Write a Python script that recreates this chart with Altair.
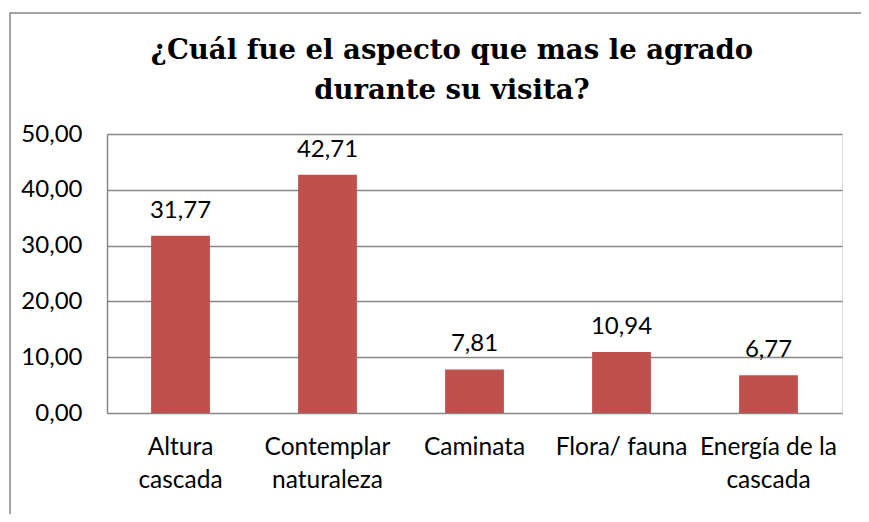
import altair as alt
import pandas as pd

categories = ["Altura\ncascada", "Contemplar\nnaturaleza", "Caminata", "Flora/ fauna", "Energía de la\ncascada"]
values = [31.77, 42.71, 7.81, 10.94, 6.77]
title_lines = ["¿Cuál fue el aspecto que mas le agrado", "durante su visita?"]
y_ticks = [0, 10, 20, 30, 40, 50]

df = pd.DataFrame({"cat": categories, "val": values})
df["lab"] = df["val"].map(lambda v: f"{v:.2f}".replace(".", ","))

BAR = "#C0504D"
GRID = "#868686"
FONT = "Lato"
FS = 24.5
SERIF = "DejaVu Serif"

x_enc = alt.X(
    "cat:N",
    sort=categories,
    scale=alt.Scale(paddingInner=0.6, paddingOuter=0.3),
    axis=alt.Axis(
        title=None, labelAngle=0, ticks=False, domain=False, grid=False,
        labelExpr="split(datum.label, '\\n')",
        labelFont=FONT, labelFontSize=FS, labelColor="#000000",
        labelPadding=22, labelLineHeight=33, labelBaseline="top",
    ),
)
y_enc = alt.Y(
    "val:Q",
    scale=alt.Scale(domain=[0, 50], nice=False),
    axis=alt.Axis(
        title=None, values=y_ticks, ticks=False, domain=True, domainColor=GRID,
        domainWidth=1.5, grid=True, gridColor=GRID, gridWidth=1.5,
        labelExpr="replace(format(datum.value, '.2f'), '.', ',')",
        labelFont=FONT, labelFontSize=24, labelColor="#000000", labelPadding=25,
    ),
)

base = alt.Chart(df)
bars = base.mark_bar(color=BAR).encode(x=x_enc, y=y_enc)
texts = base.mark_text(
    font=FONT, fontSize=24, color="#000000", baseline="alphabetic", dy=-18
).encode(x=alt.X("cat:N", sort=categories), y="val:Q", text="lab:N")

frame = alt.Chart(pd.DataFrame({"k": [0]})).mark_rect(
    fill=None, stroke=GRID, strokeWidth=1.5
).encode(
    x=alt.value(-97), x2=alt.value(900), y=alt.value(-121), y2=alt.value(500)
)

title_df = pd.DataFrame({"k": [0]})
title1 = alt.Chart(title_df).mark_text(
    font=SERIF, fontSize=27.5, fontWeight="bold", color="#000000",
    baseline="alphabetic", align="center",
).encode(x=alt.value(345), y=alt.value(-75), text=alt.value(title_lines[0]))
title2 = alt.Chart(title_df).mark_text(
    font=SERIF, fontSize=27.5, fontWeight="bold", color="#000000",
    baseline="alphabetic", align="center",
).encode(x=alt.value(345), y=alt.value(-35), text=alt.value(title_lines[1]))

chart = alt.layer(frame, bars, texts, title1, title2).properties(
    width=735,
    height=279,
    autosize=alt.AutoSizeParams(type="none"),
    padding={"left": 99, "top": 126, "right": 19, "bottom": 101},
).configure_view(stroke=None).configure(background="white")

chart.save("out.html", embed_options={"renderer": "svg", "actions": False})
